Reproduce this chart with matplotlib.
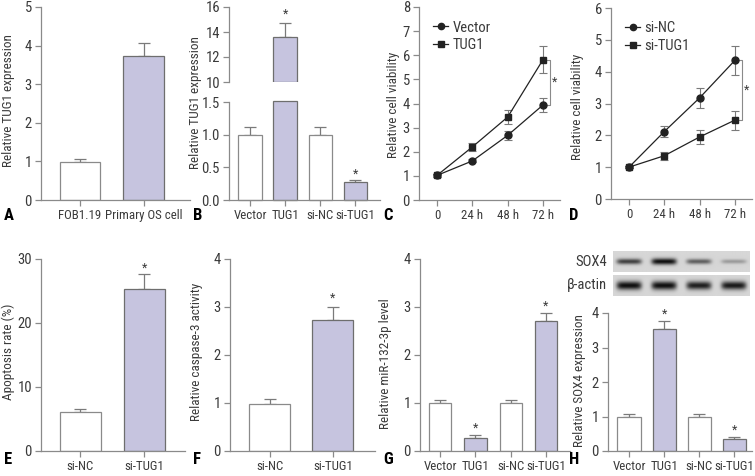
import numpy as np
import matplotlib
matplotlib.use("Agg")
import matplotlib.pyplot as plt
from matplotlib.lines import Line2D
from matplotlib import font_manager as fm

# pick a narrow sans face if one is installed
entries = fm.fontManager.ttflist
fam_names = {f.name for f in entries}
cond_dejavu = any(f.name == 'DejaVu Sans' and str(f.stretch) in ('condensed', '75', 'semi-condensed', '87')
                  for f in entries)
SCALE = 1.0
if 'Liberation Sans Narrow' in fam_names:
    plt.rcParams['font.family'] = ['Liberation Sans Narrow', 'DejaVu Sans']
elif 'Roboto Condensed' in fam_names:
    plt.rcParams['font.family'] = ['Roboto Condensed', 'DejaVu Sans']
elif cond_dejavu:
    plt.rcParams['font.family'] = ['DejaVu Sans']
    plt.rcParams['font.stretch'] = 'condensed'
    SCALE = 0.85
else:
    plt.rcParams['font.family'] = ['Roboto', 'DejaVu Sans']
    SCALE = 0.8

W, H = 755, 476
TXT = '#3a3a3a'
SPINE = '#8a8a8a'
FILL = '#c6c4df'
EDGE = '#6e6e6e'
FS = 10.5 * SCALE     # y tick labels
XFS = 9.3 * SCALE     # x tick labels
LFS = 9.5 * SCALE

# ---- data ----
a_labels = ['FOB1.19', 'Primary OS cell']
a_vals = [0.98, 3.72]
a_err = [0.07, 0.34]

four_labels = ['Vector', 'TUG1', 'si-NC', 'si-TUG1']
b_vals = [1.0, 13.6, 1.0, 0.28]
b_err = [0.11, 1.15, 0.11, 0.03]

times = ['0', '24 h', '48 h', '72 h']
c_vector = [1.02, 1.62, 2.68, 3.94]
c_vector_err = [0.05, 0.06, 0.18, 0.3]
c_tug1 = [1.02, 2.2, 3.44, 5.82]
c_tug1_err = [0.05, 0.17, 0.3, 0.55]

d_sinc = [1.0, 2.12, 3.18, 4.36]
d_sinc_err = [0.03, 0.16, 0.31, 0.45]
d_situg1 = [1.0, 1.36, 1.95, 2.48]
d_situg1_err = [0.03, 0.13, 0.22, 0.3]

two_labels = ['si-NC', 'si-TUG1']
e_vals = [6.1, 25.3]
e_err = [0.5, 2.3]

f_vals = [0.98, 2.73]
f_err = [0.1, 0.27]

g_vals = [1.0, 0.27, 1.0, 2.7]
g_err = [0.06, 0.07, 0.06, 0.18]

h_vals = [1.0, 3.53, 1.0, 0.36]
h_err = [0.08, 0.23, 0.08, 0.04]

sox4_band = [0.75, 1.0, 0.6, 0.3]
actin_band = [1.0, 1.0, 0.92, 0.95]

fig = plt.figure(figsize=(W / 100, H / 100), dpi=100)


def ax_px(x0, y0, x1, y1):
    return fig.add_axes([x0 / W, 1 - y1 / H, (x1 - x0) / W, (y1 - y0) / H])


def style(ax):
    for s in ['top', 'right']:
        ax.spines[s].set_visible(False)
    for s in ['left', 'bottom']:
        ax.spines[s].set_color(SPINE)
        ax.spines[s].set_linewidth(0.9)
    ax.tick_params(colors=SPINE, labelcolor=TXT, length=4, width=0.9, pad=2.5)
    ax.tick_params(axis='y', labelsize=FS)
    ax.tick_params(axis='x', labelsize=XFS)
    ax.set_facecolor('none')


def ylab(x, y, s):
    fig.text(x / W, 1 - y / H, s, rotation=90, fontsize=LFS, color=TXT,
             ha='center', va='center')


def bars(ax, vals, errs, fills, width):
    x = np.arange(len(vals))
    for i, (v, e, f) in enumerate(zip(vals, errs, fills)):
        ax.errorbar(x[i], v, yerr=[[0], [e]], color='#7a7a7a', capsize=4.5,
                    elinewidth=0.9, capthick=0.9, zorder=1)
        ax.bar(x[i], v, width=width, color=FILL if f else 'white',
               edgecolor=EDGE if f else '#8a8a8a', linewidth=0.9, zorder=2)


def star(ax, x, y):
    ax.text(x, y, '*', ha='center', va='center', fontsize=9, color=TXT)


def letter(x, y, s):
    fig.text(x / W, 1 - y / H, s, fontsize=12, fontweight='bold', ha='left', va='center',
             color='black')


# ---- A ----
ax = ax_px(41, 7, 190, 200)
style(ax)
bars(ax, a_vals, a_err, [False, True], 0.64)
ax.set_xlim(-0.61, 1.72)
ax.set_ylim(0, 5)
ax.set_yticks(range(6))
ax.set_xticks(range(2), a_labels)
ylab(9, 101, 'Relative TUG1 expression')
letter(4, 216, 'A')

# ---- B (broken axis) ----
axu = ax_px(229, 7, 380, 82)
axl = ax_px(229, 102, 380, 200)
for a in (axu, axl):
    style(a)
axu.spines['bottom'].set_visible(False)
axu.tick_params(axis='x', bottom=False, labelbottom=False)
xb = np.arange(4)
fb = [False, True, False, True]
for i in range(4):
    low = min(b_vals[i], 1.52)
    axl.bar(xb[i], low, width=0.66, color=FILL if fb[i] else 'white',
            edgecolor=EDGE if fb[i] else '#8a8a8a', linewidth=0.9, clip_on=False, zorder=2)
    if b_vals[i] <= 1.5:
        axl.errorbar(xb[i], b_vals[i], yerr=[[0], [b_err[i]]], color='#7a7a7a', capsize=4,
                     elinewidth=0.9, capthick=0.9, zorder=1)
    else:
        axu.bar(xb[i], b_vals[i] - 10, bottom=10, width=0.66, color=FILL, edgecolor=EDGE,
                linewidth=0.9, zorder=2)
        axu.errorbar(xb[i], b_vals[i], yerr=[[0], [b_err[i]]], color='#7a7a7a', capsize=4,
                     elinewidth=0.9, capthick=0.9, zorder=1)
        star(axu, xb[i], b_vals[i] + b_err[i] + 0.65)
star(axl, 3, b_vals[3] + b_err[3] + 0.08)
for a in (axu, axl):
    a.set_xlim(-0.6, 3.71)
axu.set_ylim(10, 16)
axu.set_yticks([10, 12, 14, 16])
axl.set_ylim(0, 1.5)
axl.set_yticks([0, 0.5, 1.0, 1.5], ['0.0', '0.5', '1.0', '1.5'])
axl.set_xticks(xb, four_labels)
ylab(196, 103, 'Relative TUG1 expression')
letter(193, 216, 'B')


# ---- C / D line panels ----
def lines(ax, s1, e1, s2, e2, names, ylim, xr):
    x = np.arange(4)
    ax.errorbar(x, s1, yerr=e1, color='#222222', marker='o', ms=5, lw=0.9,
                ecolor='#7a7a7a', elinewidth=0.8, capsize=3, capthick=0.8, zorder=3)
    ax.errorbar(x, s2, yerr=e2, color='#222222', marker='s', ms=5, lw=0.9,
                ecolor='#7a7a7a', elinewidth=0.8, capsize=3, capthick=0.8, zorder=3)
    ax.set_xlim(-0.51, xr)
    ax.set_ylim(0, ylim)
    ax.set_yticks(range(ylim + 1))
    ax.set_xticks(x, times)
    hi, lo = max(s1[3], s2[3]), min(s1[3], s2[3])
    ax.plot([3.12, 3.2, 3.2, 3.12], [hi, hi, lo, lo], color='#8a8a8a', lw=0.8, clip_on=False)
    star(ax, 3.32, (hi + lo) / 2)
    hs = [Line2D([], [], color='#222222', marker='o', ms=4.5, lw=0.9),
          Line2D([], [], color='#222222', marker='s', ms=4.5, lw=0.9)]
    ax.legend(hs, names, loc='upper left', bbox_to_anchor=(0.06, 0.96), frameon=False,
              fontsize=FS, handlelength=1.0, handletextpad=0.3, labelspacing=0.25,
              labelcolor=TXT, borderaxespad=0)


ax = ax_px(419, 7, 560, 200)
style(ax)
lines(ax, c_vector, c_vector_err, c_tug1, c_tug1_err, ['Vector', 'TUG1'], 8, 3.48)
ylab(393, 105, 'Relative cell viability')
letter(383, 216, 'C')

ax = ax_px(611, 8, 752, 199)
style(ax)
lines(ax, d_sinc, d_sinc_err, d_situg1, d_situg1_err, ['si-NC', 'si-TUG1'], 6, 3.48)
ylab(578, 107, 'Relative cell viability')
letter(569, 216, 'D')

# ---- E ----
ax = ax_px(41, 259, 185, 451)
style(ax)
bars(ax, e_vals, e_err, [False, True], 0.64)
star(ax, 1, e_vals[1] + e_err[1] + 1.0)
ax.set_xlim(-0.61, 1.64)
ax.set_ylim(0, 30)
ax.set_yticks([0, 10, 20, 30])
ax.set_xticks(range(2), two_labels)
ylab(8, 352, 'Apoptosis rate (%)')
letter(4, 459, 'E')

# ---- F ----
ax = ax_px(230, 259, 375, 451)
style(ax)
bars(ax, f_vals, f_err, [False, True], 0.65)
star(ax, 1, f_vals[1] + f_err[1] + 0.18)
ax.set_xlim(-0.63, 1.67)
ax.set_ylim(0, 4)
ax.set_yticks(range(5))
ax.set_xticks(range(2), two_labels)
ylab(197, 352, 'Relative caspase-3 activity')
letter(193, 459, 'F')

# ---- G ----
ax = ax_px(420, 259, 570, 451)
style(ax)
bars(ax, g_vals, g_err, [False, True, False, True], 0.63)
star(ax, 1, g_vals[1] + g_err[1] + 0.14)
star(ax, 3, g_vals[3] + g_err[3] + 0.14)
ax.set_xlim(-0.57, 3.68)
ax.set_ylim(0, 4)
ax.set_yticks(range(5))
ax.set_xticks(range(4), four_labels)
ylab(386, 364, 'Relative miR-132-3p level')
letter(383, 459, 'G')

# ---- H ----
ax = ax_px(608, 313, 752, 451)
style(ax)
bars(ax, h_vals, h_err, [False, True, False, True], 0.66)
star(ax, 1, h_vals[1] + h_err[1] + 0.2)
star(ax, 3, h_vals[3] + h_err[3] + 0.2)
ax.set_xlim(-0.6, 3.5)
ax.set_ylim(0, 4)
ax.set_yticks(range(5))
ax.set_xticks(range(4), four_labels)
ylab(579, 381, 'Relative SOX4 expression')
letter(569, 459, 'H')

# western blot strips
xs = np.linspace(-0.457, 3.457, 280)
ys = np.linspace(-1, 1, 42)
XX, YY = np.meshgrid(xs, ys)
for (y0, y1, inten, lab, wy) in [(251, 272, sox4_band, 'SOX4', 0.28),
                                 (275, 296, actin_band, '\u03b2-actin', 0.38)]:
    bax = ax_px(613, y0, 750, y1)
    img = np.full(XX.shape, 0.84)
    for i, v in enumerate(inten):
        prof = np.exp(-((XX - i) / 0.36) ** 6) * np.exp(-(YY / (wy * (0.6 + 0.5 * v))) ** 2)
        img -= 0.78 * v * prof
    bax.imshow(np.clip(img, 0, 1), cmap='gray', vmin=0, vmax=1, aspect='auto',
               extent=(-0.457, 3.457, -1, 1))
    bax.set_xticks([])
    bax.set_yticks([])
    for s in bax.spines.values():
        s.set_visible(False)
    fig.text(607 / W, 1 - (y0 + y1) / 2 / H, lab, fontsize=FS, color=TXT,
             ha='right', va='center')

fig.savefig('out.png', dpi=100)
